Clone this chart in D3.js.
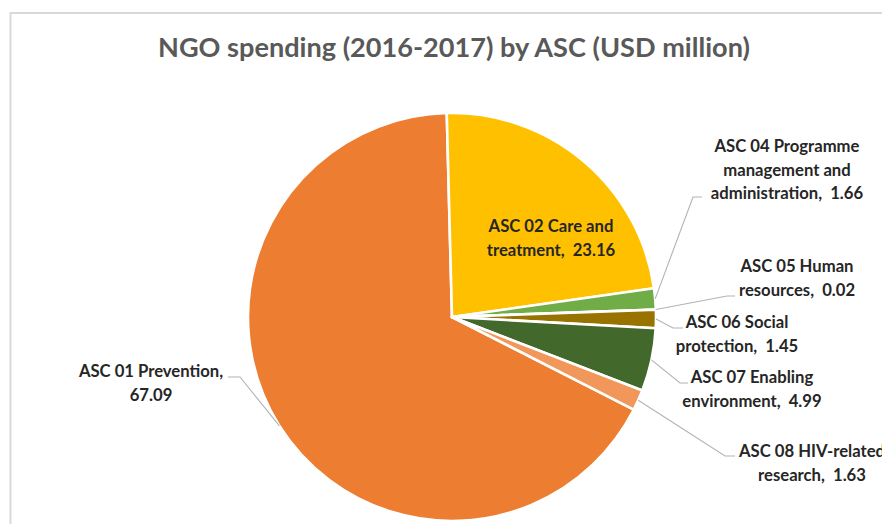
<!DOCTYPE html>
<html>
<head>
<meta charset="utf-8">
<script src="https://cdn.jsdelivr.net/npm/d3@7"></script>
<style>
  html, body { margin: 0; padding: 0; background: #fff; overflow: hidden; }
  text { white-space: pre; }
</style>
</head>
<body>
<svg id="chart" width="882" height="524"></svg>
<script>
// NGO spending by AIDS spending category (USD million)
const categories = [
  "ASC 01 Prevention",
  "ASC 02 Care and treatment",
  "ASC 04 Programme management and administration",
  "ASC 05 Human resources",
  "ASC 06 Social protection",
  "ASC 07 Enabling environment",
  "ASC 08 HIV-related research"
];
const values = [67.09, 23.16, 1.66, 0.02, 1.45, 4.99, 1.63];
const sliceColors = ["#ED7D31", "#FFC000", "#70AD47", "#4472C4", "#997300", "#43682B", "#F1975A"];

// Label text broken into lines; the value is appended to the last line
const labelParts = [
  ["ASC 01 Prevention,", ""],
  ["ASC 02 Care and", "treatment,"],
  ["ASC 04 Programme", "management and", "administration,"],
  ["ASC 05 Human", "resources,"],
  ["ASC 06 Social", "protection,"],
  ["ASC 07 Enabling", "environment,"],
  ["ASC 08 HIV-related", "research,"]
];

const titleText = "NGO spending (2016-2017) by ASC (USD million)";

// Label placement: text centre x, first baseline y, leader elbow and end
const labelLayout = [
  { cx: 151, y: 377, elbow: [240, 377], end: [228, 377] },
  { cx: 551, y: 232, elbow: null, end: null },
  { cx: 787, y: 152, elbow: [693, 197], end: [702, 197] },
  { cx: 797, y: 272, elbow: [727, 296], end: [735, 296] },
  { cx: 737, y: 328, elbow: [673, 328], end: [683, 328] },
  { cx: 752, y: 383, elbow: [680, 383], end: [688, 383] },
  { cx: 812, y: 457, elbow: [725, 456], end: [735, 456] }
];

const W = 882, H = 524;
const cx = 452, cy = 317, R = 204;
const fontFamily = "Lato, 'Open Sans', 'DejaVu Sans', sans-serif";
const lineStep = 23.5;

const svg = d3.select("#chart");

// chart area frame
svg.append("rect")
  .attr("x", 10.5).attr("y", 13)
  .attr("width", W + 20).attr("height", H + 20)
  .attr("fill", "#fff")
  .attr("stroke", "#d9d9d9")
  .attr("stroke-width", 2);

// title, scaled to its set width
const title = svg.append("text")
  .attr("x", 454).attr("y", 57)
  .attr("text-anchor", "middle")
  .attr("font-family", fontFamily)
  .attr("font-weight", "bold")
  .attr("font-size", 26)
  .attr("fill", "#595959")
  .text(titleText);
const tw = title.node().getComputedTextLength();
title.attr("font-size", 26 * 592 / tw);

const data = categories.map((c, i) => ({ name: c, value: values[i], color: sliceColors[i], i }));

const pie = d3.pie()
  .sort(null)
  .value(d => d.value)
  .startAngle(117 * Math.PI / 180)
  .endAngle(117 * Math.PI / 180 + 2 * Math.PI);

const arc = d3.arc().innerRadius(0).outerRadius(R);
const arcs = pie(data);

const g = svg.append("g").attr("transform", `translate(${cx},${cy})`);
g.selectAll("path.slice")
  .data(arcs)
  .join("path")
  .attr("class", "slice")
  .attr("d", arc)
  .attr("fill", d => d.data.color)
  .attr("stroke", "#fff")
  .attr("stroke-width", 2.6)
  .attr("stroke-linejoin", "round");

// label font size chosen from a reference string width
const probe = svg.append("text")
  .attr("font-family", fontFamily).attr("font-weight", "bold")
  .attr("font-size", 16).text("ASC 02 Care and");
const labelSize = 16 * 125 / probe.node().getComputedTextLength();
probe.remove();

const fmt = d3.format(".2f");

arcs.forEach((a, i) => {
  const L = labelLayout[i];
  const parts = labelParts[i].slice();
  const last = parts.length - 1;
  parts[last] = parts[last] === "" ? fmt(a.data.value) : parts[last] + "  " + fmt(a.data.value);

  if (L.elbow) {
    const mid = (a.startAngle + a.endAngle) / 2;
    const p0 = [cx + R * Math.sin(mid), cy - R * Math.cos(mid)];
    svg.append("polyline")
      .attr("points", [p0, L.elbow, L.end].map(p => p.join(",")).join(" "))
      .attr("fill", "none")
      .attr("stroke", "#b3b3b3")
      .attr("stroke-width", 1.1);
  }

  const t = svg.append("text")
    .attr("text-anchor", "middle")
    .attr("font-family", fontFamily)
    .attr("font-weight", "bold")
    .attr("font-size", labelSize)
    .attr("fill", "#262626");
  parts.forEach((line, k) => {
    t.append("tspan")
      .attr("x", L.cx)
      .attr("y", L.y + k * lineStep)
      .text(line);
  });
});
</script>
</body>
</html>
